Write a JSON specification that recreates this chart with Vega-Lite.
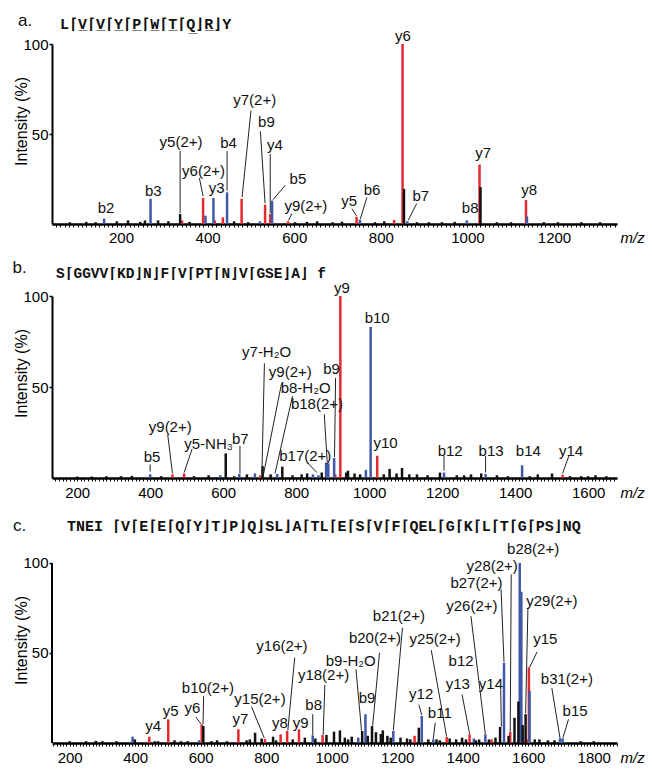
{
  "$schema": "https://vega.github.io/schema/vega-lite/v6.json",
  "background": "white",
  "padding": {"left": 12, "top": 11, "right": 2, "bottom": 2},
  "spacing": 72,
  "bounds": "flush",
  "config": {
    "view": {"stroke": null},
    "axis": {"labelFont": "Liberation Sans", "titleFont": "Liberation Sans", "labelColor": "#000", "titleColor": "#000", "domainColor": "#000", "tickColor": "#000", "grid": false, "labelFlush": false, "labelOverlap": false, "labelFontSize": 15, "titleFontWeight": "normal"}
  },
  "datasets": {
    "titles": [
      {"panel": "a", "letter": "a.", "seq": "L\u2308V\u0332\u2308V\u0332\u2308Y\u0332\u2308P\u0332\u2308W\u0332\u2308T\u0332\u2308Q\u0332\u230bR\u0332\u230bY"},
      {"panel": "b", "letter": "b.", "seq": "S\u2308GGVV\u2308KD\u230bN\u230bF\u2308V\u2308PT\u2308N\u230bV\u2308GSE\u230bA\u230b f"},
      {"panel": "c", "letter": "c.", "seq": "TNEI \u2308V\u2308E\u2308E\u2308Q\u2308Y\u230bT\u230bP\u230bQ\u230bSL\u230bA\u2308TL\u2308E\u2308S\u2308V\u2308F\u2308QEL\u2308G\u2308K\u2308L\u2308T\u2308G\u2308PS\u230bNQ"}
    ],
    "peaksA": [
      {"mz": 340.9, "int": 2, "ion": "y"}, {"mz": 389.6, "int": 14.4, "ion": "y"}, {"mz": 416.7, "int": 2, "ion": "y"}, {"mz": 435.2, "int": 3.7, "ion": "y"},
      {"mz": 478.5, "int": 14, "ion": "y"}, {"mz": 532.7, "int": 10.7, "ion": "y"}, {"mz": 544.6, "int": 5.5, "ion": "y"}, {"mz": 585.8, "int": 1.5, "ion": "y"},
      {"mz": 744.0, "int": 4, "ion": "y"}, {"mz": 830.7, "int": 2.2, "ion": "y"}, {"mz": 850.2, "int": 100, "ion": "y"}, {"mz": 1028.0, "int": 33, "ion": "y"},
      {"mz": 1135.3, "int": 13.3, "ion": "y"},
      {"mz": 160.9, "int": 3, "ion": "b"}, {"mz": 268.2, "int": 14, "ion": "b"}, {"mz": 395.1, "int": 4.6, "ion": "b"}, {"mz": 413.5, "int": 14.4, "ion": "b"},
      {"mz": 444.9, "int": 17.6, "ion": "b"}, {"mz": 520.8, "int": 1.5, "ion": "b"}, {"mz": 548.9, "int": 13, "ion": "b"}, {"mz": 751.6, "int": 2.4, "ion": "b"},
      {"mz": 861.1, "int": 1.5, "ion": "b"}, {"mz": 998.7, "int": 2, "ion": "b"}, {"mz": 1137.5, "int": 4.2, "ion": "b"},
      {"mz": 216.2, "int": 2, "ion": "n"}, {"mz": 285.6, "int": 2, "ion": "n"}, {"mz": 336.5, "int": 5.5, "ion": "n"}, {"mz": 653.0, "int": 1.5, "ion": "n"},
      {"mz": 853.5, "int": 19.5, "ion": "n"}, {"mz": 941.3, "int": 1, "ion": "n"}, {"mz": 1030.2, "int": 20.5, "ion": "n"},
      {"mz": 81.8, "int": 1, "ion": "n"}, {"mz": 119.8, "int": 1.2, "ion": "n"}, {"mz": 141.4, "int": 1, "ion": "n"}, {"mz": 190.2, "int": 1.5, "ion": "n"},
      {"mz": 244.4, "int": 1.2, "ion": "n"}, {"mz": 255.2, "int": 2, "ion": "n"}, {"mz": 309.4, "int": 1.5, "ion": "n"}, {"mz": 358.2, "int": 1.2, "ion": "n"},
      {"mz": 461.2, "int": 1.5, "ion": "n"}, {"mz": 493.7, "int": 1, "ion": "n"}, {"mz": 602.1, "int": 1, "ion": "n"}, {"mz": 629.2, "int": 1.2, "ion": "n"},
      {"mz": 688.8, "int": 1, "ion": "n"}, {"mz": 710.4, "int": 1.3, "ion": "n"}, {"mz": 786.3, "int": 1, "ion": "n"}, {"mz": 808.0, "int": 1.5, "ion": "n"},
      {"mz": 883.8, "int": 1, "ion": "n"}, {"mz": 910.9, "int": 1, "ion": "n"}, {"mz": 970.5, "int": 1.2, "ion": "n"}, {"mz": 1068.1, "int": 1, "ion": "n"},
      {"mz": 1100.6, "int": 1, "ion": "n"}, {"mz": 1176.5, "int": 1, "ion": "n"}, {"mz": 1209.0, "int": 1, "ion": "n"}, {"mz": 1263.2, "int": 1, "ion": "n"},
      {"mz": 1306.5, "int": 1, "ion": "n"}
    ],
    "labelsA": [
      {"mz": 165.3, "int": 8.8, "label": "b2"}, {"mz": 274.7, "int": 18.3, "label": "b3"}, {"mz": 338.7, "int": 45.3, "label": "y5(2+)"},
      {"mz": 390.7, "int": 29.7, "label": "y6(2+)"}, {"mz": 421.1, "int": 20, "label": "y3"}, {"mz": 448.2, "int": 45, "label": "b4"},
      {"mz": 508.8, "int": 69, "label": "y7(2+)"}, {"mz": 535.9, "int": 56.4, "label": "b9"}, {"mz": 555.5, "int": 44, "label": "y4"},
      {"mz": 608.6, "int": 25, "label": "b5"}, {"mz": 627, "int": 10, "label": "y9(2+)"}, {"mz": 726.7, "int": 13, "label": "y5"},
      {"mz": 779.8, "int": 19, "label": "b6"}, {"mz": 851.3, "int": 104.5, "label": "y6"}, {"mz": 892.5, "int": 15.7, "label": "b7"},
      {"mz": 1006.3, "int": 8.8, "label": "b8"}, {"mz": 1036.7, "int": 39.5, "label": "y7"}, {"mz": 1142.9, "int": 18.7, "label": "y8"}
    ],
    "leadersA": [
      {"mz": 336.5, "int": 40.5, "mz2": 336.5, "int2": 6}, {"mz": 381, "int": 25.5, "mz2": 389.6, "int2": 15.5},
      {"mz": 444.9, "int": 40.5, "mz2": 444.9, "int2": 18.5}, {"mz": 500.2, "int": 63, "mz2": 479.6, "int2": 15},
      {"mz": 521.9, "int": 51.5, "mz2": 532.7, "int2": 11.5}, {"mz": 544.6, "int": 39, "mz2": 544.6, "int2": 6},
      {"mz": 579.3, "int": 21.5, "mz2": 551.1, "int2": 13.5}, {"mz": 594.5, "int": 5.8, "mz2": 586.9, "int2": 2},
      {"mz": 733.2, "int": 8.5, "mz2": 744.0, "int2": 4.5}, {"mz": 767.9, "int": 14.8, "mz2": 752.7, "int2": 2.8},
      {"mz": 882.8, "int": 11.3, "mz2": 863.2, "int2": 2}
    ],
    "peaksB": [
      {"mz": 461, "int": 2, "ion": "y"}, {"mz": 493, "int": 2.5, "ion": "y"}, {"mz": 702, "int": 1.5, "ion": "y"}, {"mz": 907, "int": 2, "ion": "y"},
      {"mz": 921, "int": 100, "ion": "y"}, {"mz": 1022, "int": 12.2, "ion": "y"}, {"mz": 1530, "int": 1.8, "ion": "y"},
      {"mz": 400, "int": 2, "ion": "b"}, {"mz": 592, "int": 1.5, "ion": "b"}, {"mz": 644, "int": 2.2, "ion": "b"}, {"mz": 687, "int": 2.5, "ion": "b"},
      {"mz": 748, "int": 2.2, "ion": "b"}, {"mz": 846, "int": 2, "ion": "b"}, {"mz": 861, "int": 1.5, "ion": "b"}, {"mz": 882, "int": 8.5, "ion": "b"},
      {"mz": 888, "int": 8, "ion": "b"}, {"mz": 904, "int": 11, "ion": "b"}, {"mz": 991, "int": 4.5, "ion": "b"}, {"mz": 1004, "int": 83, "ion": "b"},
      {"mz": 1205, "int": 3, "ion": "b"}, {"mz": 1319, "int": 2.2, "ion": "b"}, {"mz": 1419, "int": 7, "ion": "b"},
      {"mz": 607, "int": 13.5, "ion": "n"}, {"mz": 708, "int": 6.5, "ion": "n"}, {"mz": 762, "int": 6.2, "ion": "n"}, {"mz": 937, "int": 3, "ion": "n"},
      {"mz": 942, "int": 4, "ion": "n"}, {"mz": 1056, "int": 5, "ion": "n"}, {"mz": 1090, "int": 5.5, "ion": "n"}, {"mz": 1131, "int": 2, "ion": "n"},
      {"mz": 1194, "int": 3, "ion": "n"}, {"mz": 1279, "int": 2, "ion": "n"}, {"mz": 1307, "int": 2.5, "ion": "n"}, {"mz": 1462, "int": 2, "ion": "n"},
      {"mz": 1501, "int": 2.5, "ion": "n"}, {"mz": 1581, "int": 1, "ion": "n"}, {"mz": 1620, "int": 1.5, "ion": "n"},
      {"mz": 200, "int": 0.8, "ion": "n"}, {"mz": 240, "int": 0.8, "ion": "n"}, {"mz": 280, "int": 1, "ion": "n"}, {"mz": 320, "int": 1, "ion": "n"},
      {"mz": 350, "int": 1.2, "ion": "n"}, {"mz": 430, "int": 1, "ion": "n"}, {"mz": 520, "int": 1, "ion": "n"}, {"mz": 560, "int": 1.5, "ion": "n"},
      {"mz": 630, "int": 1, "ion": "n"}, {"mz": 665, "int": 2, "ion": "n"}, {"mz": 730, "int": 2, "ion": "n"}, {"mz": 790, "int": 1.5, "ion": "n"},
      {"mz": 815, "int": 2, "ion": "n"}, {"mz": 830, "int": 2.5, "ion": "n"}, {"mz": 870, "int": 3, "ion": "n"}, {"mz": 960, "int": 2.5, "ion": "n"},
      {"mz": 975, "int": 2, "ion": "n"}, {"mz": 1040, "int": 2, "ion": "n"}, {"mz": 1075, "int": 2.5, "ion": "n"}, {"mz": 1110, "int": 2, "ion": "n"},
      {"mz": 1160, "int": 1.5, "ion": "n"}, {"mz": 1240, "int": 1.5, "ion": "n"}, {"mz": 1260, "int": 1.5, "ion": "n"}, {"mz": 1350, "int": 1.5, "ion": "n"},
      {"mz": 1380, "int": 1, "ion": "n"}, {"mz": 1440, "int": 1, "ion": "n"}, {"mz": 1550, "int": 1, "ion": "n"}, {"mz": 1600, "int": 1, "ion": "n"},
      {"mz": 1650, "int": 1, "ion": "n"}
    ],
    "labelsB": [
      {"mz": 405, "int": 11.3, "label": "b5"}, {"mz": 455, "int": 27.8, "label": "y9(2+)"}, {"mz": 560, "int": 18.6, "label": "y5-NH\u2083"},
      {"mz": 647, "int": 21.4, "label": "b7"}, {"mz": 825, "int": 12.2, "label": "b17(2+)"}, {"mz": 719, "int": 69.4, "label": "y7-H\u2082O"},
      {"mz": 784, "int": 58, "label": "y9(2+)"}, {"mz": 826, "int": 49.7, "label": "b8-H\u2082O"}, {"mz": 857, "int": 40.6, "label": "b18(2+)"},
      {"mz": 897, "int": 59.8, "label": "b9"}, {"mz": 925, "int": 104.5, "label": "y9"}, {"mz": 1022, "int": 88, "label": "b10"},
      {"mz": 1045, "int": 19.5, "label": "y10"}, {"mz": 1222, "int": 15, "label": "b12"}, {"mz": 1334, "int": 15, "label": "b13"},
      {"mz": 1436, "int": 15, "label": "b14"}, {"mz": 1553, "int": 15, "label": "y14"}
    ],
    "leadersB": [
      {"mz": 400, "int": 7.5, "mz2": 400, "int2": 3.5}, {"mz": 448, "int": 24, "mz2": 461, "int2": 2.5},
      {"mz": 515, "int": 16, "mz2": 493, "int2": 3}, {"mz": 646, "int": 17.7, "mz2": 646, "int2": 2.5},
      {"mz": 713, "int": 63, "mz2": 706, "int2": 2}, {"mz": 760, "int": 52, "mz2": 710, "int2": 1.5},
      {"mz": 790, "int": 45, "mz2": 742, "int2": 2.5}, {"mz": 877, "int": 35, "mz2": 885, "int2": 8.8},
      {"mz": 908, "int": 55, "mz2": 905, "int2": 11.5}, {"mz": 830, "int": 8.5, "mz2": 857, "int2": 3},
      {"mz": 1205, "int": 12, "mz2": 1205, "int2": 4}, {"mz": 1319, "int": 12, "mz2": 1319, "int2": 3},
      {"mz": 1547, "int": 12, "mz2": 1530, "int2": 2.5}
    ],
    "peaksC": [
      {"mz": 443, "int": 3.5, "ion": "y"}, {"mz": 501, "int": 13.1, "ion": "y"}, {"mz": 603, "int": 10.4, "ion": "y"}, {"mz": 715, "int": 7.6, "ion": "y"},
      {"mz": 796, "int": 2.2, "ion": "y"}, {"mz": 844, "int": 4.8, "ion": "y"}, {"mz": 864, "int": 6.7, "ion": "y"}, {"mz": 900, "int": 7.6, "ion": "y"},
      {"mz": 972, "int": 4.4, "ion": "y"}, {"mz": 1253, "int": 4, "ion": "y"}, {"mz": 1351, "int": 3.3, "ion": "y"}, {"mz": 1421, "int": 4.8, "ion": "y"},
      {"mz": 1488, "int": 2, "ion": "y"}, {"mz": 1545, "int": 6.1, "ion": "y"}, {"mz": 1598, "int": 2, "ion": "y"}, {"mz": 1602, "int": 42, "ion": "y"},
      {"mz": 392, "int": 3.5, "ion": "b"}, {"mz": 595, "int": 1.5, "ion": "b"}, {"mz": 942, "int": 4.3, "ion": "b"}, {"mz": 1081, "int": 3, "ion": "b"},
      {"mz": 1103, "int": 16, "ion": "b"}, {"mz": 1188, "int": 6.7, "ion": "b"}, {"mz": 1275, "int": 15, "ion": "b"}, {"mz": 1310, "int": 2, "ion": "b"},
      {"mz": 1434, "int": 2.5, "ion": "b"}, {"mz": 1469, "int": 4.8, "ion": "b"}, {"mz": 1526, "int": 44.6, "ion": "b"}, {"mz": 1574, "int": 100, "ion": "b"},
      {"mz": 1579, "int": 84, "ion": "b"}, {"mz": 1604, "int": 29, "ion": "b"}, {"mz": 1697, "int": 2.6, "ion": "b"}, {"mz": 1705, "int": 2.6, "ion": "b"},
      {"mz": 343, "int": 1, "ion": "n"}, {"mz": 399, "int": 2, "ion": "n"}, {"mz": 460, "int": 1, "ion": "n"}, {"mz": 540, "int": 1, "ion": "n"},
      {"mz": 608, "int": 9.5, "ion": "n"}, {"mz": 633, "int": 1, "ion": "n"}, {"mz": 766, "int": 5.7, "ion": "n"}, {"mz": 786, "int": 2.5, "ion": "n"},
      {"mz": 821, "int": 3.5, "ion": "n"}, {"mz": 881, "int": 2, "ion": "n"}, {"mz": 918, "int": 3, "ion": "n"}, {"mz": 984, "int": 4.5, "ion": "n"},
      {"mz": 1007, "int": 6.3, "ion": "n"}, {"mz": 1025, "int": 7, "ion": "n"}, {"mz": 1061, "int": 3.5, "ion": "n"}, {"mz": 1093, "int": 6.7, "ion": "n"},
      {"mz": 1123, "int": 9.4, "ion": "n"}, {"mz": 1135, "int": 6, "ion": "n"}, {"mz": 1150, "int": 5, "ion": "n"}, {"mz": 1156, "int": 7, "ion": "n"},
      {"mz": 1170, "int": 4, "ion": "n"}, {"mz": 1210, "int": 3, "ion": "n"}, {"mz": 1230, "int": 2.5, "ion": "n"}, {"mz": 1266, "int": 8.5, "ion": "n"},
      {"mz": 1295, "int": 2, "ion": "n"}, {"mz": 1360, "int": 2.5, "ion": "n"}, {"mz": 1380, "int": 2, "ion": "n"}, {"mz": 1398, "int": 3, "ion": "n"},
      {"mz": 1450, "int": 2, "ion": "n"}, {"mz": 1514, "int": 8.9, "ion": "n"}, {"mz": 1558, "int": 14, "ion": "n"}, {"mz": 1570, "int": 23, "ion": "n"},
      {"mz": 1583, "int": 10, "ion": "n"}, {"mz": 1592, "int": 16, "ion": "n"}, {"mz": 1634, "int": 2, "ion": "n"}, {"mz": 1660, "int": 1.5, "ion": "n"},
      {"mz": 200, "int": 1, "ion": "n"}, {"mz": 250, "int": 1, "ion": "n"}, {"mz": 280, "int": 1.2, "ion": "n"}, {"mz": 300, "int": 1, "ion": "n"},
      {"mz": 470, "int": 1, "ion": "n"}, {"mz": 520, "int": 1.5, "ion": "n"}, {"mz": 560, "int": 1, "ion": "n"}, {"mz": 650, "int": 1.5, "ion": "n"},
      {"mz": 680, "int": 1, "ion": "n"}, {"mz": 740, "int": 1.5, "ion": "n"}, {"mz": 750, "int": 2, "ion": "n"}, {"mz": 830, "int": 1.5, "ion": "n"},
      {"mz": 950, "int": 2.5, "ion": "n"}, {"mz": 1040, "int": 3, "ion": "n"}, {"mz": 1050, "int": 2, "ion": "n"}, {"mz": 1110, "int": 4, "ion": "n"},
      {"mz": 1180, "int": 3, "ion": "n"}, {"mz": 1240, "int": 2, "ion": "n"}, {"mz": 1320, "int": 2, "ion": "n"}, {"mz": 1330, "int": 1.5, "ion": "n"},
      {"mz": 1410, "int": 2, "ion": "n"}, {"mz": 1440, "int": 1.5, "ion": "n"}, {"mz": 1480, "int": 2, "ion": "n"}, {"mz": 1500, "int": 3, "ion": "n"},
      {"mz": 1540, "int": 4, "ion": "n"}, {"mz": 1620, "int": 2, "ion": "n"}, {"mz": 1680, "int": 1.5, "ion": "n"}, {"mz": 1760, "int": 1, "ion": "n"},
      {"mz": 1800, "int": 1, "ion": "n"}
    ],
    "labelsC": [
      {"mz": 455, "int": 9.4, "label": "y4"}, {"mz": 508, "int": 17.8, "label": "y5"}, {"mz": 575, "int": 19.6, "label": "y6"},
      {"mz": 622, "int": 30.7, "label": "b10(2+)"}, {"mz": 721, "int": 13.1, "label": "y7"}, {"mz": 781, "int": 24.3, "label": "y15(2+)"},
      {"mz": 842, "int": 11, "label": "y8"}, {"mz": 905, "int": 11, "label": "y9"}, {"mz": 848, "int": 53.9, "label": "y16(2+)"},
      {"mz": 975, "int": 37.5, "label": "y18(2+)"}, {"mz": 945, "int": 21.3, "label": "b8"}, {"mz": 1058, "int": 45.4, "label": "b9-H\u2082O"},
      {"mz": 1108, "int": 25.2, "label": "b9"}, {"mz": 1132, "int": 58.5, "label": "b20(2+)"}, {"mz": 1205, "int": 70.6, "label": "b21(2+)"},
      {"mz": 1316, "int": 57.6, "label": "y25(2+)"}, {"mz": 1273, "int": 27, "label": "y12"}, {"mz": 1330, "int": 16.8, "label": "b11"},
      {"mz": 1385, "int": 32.6, "label": "y13"}, {"mz": 1395, "int": 45.6, "label": "b12"}, {"mz": 1486, "int": 32.6, "label": "y14"},
      {"mz": 1428, "int": 76, "label": "y26(2+)"}, {"mz": 1442, "int": 89, "label": "b27(2+)"}, {"mz": 1490, "int": 98.3, "label": "y28(2+)"},
      {"mz": 1615, "int": 107.6, "label": "b28(2+)"}, {"mz": 1672, "int": 78.9, "label": "y29(2+)"}, {"mz": 1652, "int": 57.6, "label": "y15"},
      {"mz": 1718, "int": 35.4, "label": "b31(2+)"}, {"mz": 1743, "int": 17.8, "label": "b15"}
    ],
    "leadersC": [
      {"mz": 585, "int": 14.4, "mz2": 601, "int2": 10.6}, {"mz": 609, "int": 26, "mz2": 607, "int2": 10.5},
      {"mz": 755, "int": 20.2, "mz2": 794, "int2": 2.8}, {"mz": 887, "int": 47.4, "mz2": 866, "int2": 7},
      {"mz": 979, "int": 32.3, "mz2": 974, "int2": 4.6}, {"mz": 942, "int": 16, "mz2": 942, "int2": 4.5},
      {"mz": 1074, "int": 40.9, "mz2": 1091, "int2": 7}, {"mz": 1146, "int": 50.2, "mz2": 1125, "int2": 9.6},
      {"mz": 1216, "int": 64, "mz2": 1188, "int2": 7}, {"mz": 1304, "int": 51.5, "mz2": 1351, "int2": 3.5},
      {"mz": 1266, "int": 21.3, "mz2": 1275, "int2": 15.5}, {"mz": 1316, "int": 11.3, "mz2": 1310, "int2": 2.2},
      {"mz": 1398, "int": 27, "mz2": 1421, "int2": 5}, {"mz": 1516, "int": 29.8, "mz2": 1518, "int2": 9},
      {"mz": 1425, "int": 70.5, "mz2": 1469, "int2": 5}, {"mz": 1517, "int": 85.4, "mz2": 1526, "int2": 45},
      {"mz": 1548, "int": 93.7, "mz2": 1545, "int2": 6.3}, {"mz": 1599, "int": 74.3, "mz2": 1592, "int2": 16.5},
      {"mz": 1627, "int": 50.6, "mz2": 1604, "int2": 42}, {"mz": 1672, "int": 30.6, "mz2": 1697, "int2": 2.8},
      {"mz": 1723, "int": 13.2, "mz2": 1706, "int2": 3}
    ]
  },
  "vconcat": [
    {
      "width": 565, "height": 180,
      "layer": [
        {"data": {"name": "peaksA"}, "mark": {"type": "rule", "strokeWidth": 2.5},
         "encoding": {
           "x": {"field": "mz", "type": "quantitative", "scale": {"domain": [40.6, 1345.5], "nice": false, "zero": false},
                 "axis": {"tickCount": 130, "labelExpr": "datum.value % 200 === 0 ? '' + datum.value : ''", "tickSize": 3, "tickWidth": 1, "domainWidth": 2.5, "labelPadding": 3.5,
                          "title": "m/z", "titleFontStyle": "italic", "titleFontSize": 15, "titleX": 568, "titleY": 13, "titleAlign": "left", "titleBaseline": "middle"}},
           "y": {"field": "int", "type": "quantitative", "scale": {"domain": [0, 100], "nice": false},
                 "axis": {"values": [50, 100], "title": "Intensity (%)", "titleFontSize": 16, "titleX": -31, "titleY": 77, "titleBaseline": "middle", "tickSize": 3, "tickWidth": 1.5, "domainWidth": 2, "labelPadding": 1}},
           "y2": {"datum": 0},
           "color": {"field": "ion", "type": "nominal", "scale": {"domain": ["y", "b", "n"], "range": ["#e42a2e", "#4158a6", "#111111"]}, "legend": null}
         }},
        {"data": {"name": "leadersA"}, "mark": {"type": "rule", "strokeWidth": 1, "color": "#222"},
         "encoding": {
           "x": {"field": "mz", "type": "quantitative"},
           "y": {"field": "int", "type": "quantitative"},
           "x2": {"field": "mz2"}, "y2": {"field": "int2"}
         }},
        {"data": {"name": "labelsA"}, "mark": {"type": "text", "font": "Liberation Sans", "fontSize": 15, "color": "#111", "align": "center", "baseline": "middle"},
         "encoding": {
           "x": {"field": "mz", "type": "quantitative"},
           "y": {"field": "int", "type": "quantitative"},
           "text": {"field": "label"}
         }},
        {"data": {"name": "titles"}, "transform": [{"filter": "datum.panel === 'a'"}],
         "mark": {"type": "text", "font": "Liberation Sans", "fontSize": 17, "color": "#111", "align": "left", "baseline": "alphabetic"},
         "encoding": {
           "x": {"datum": -37.8, "type": "quantitative"},
           "y": {"datum": 110, "type": "quantitative"},
           "text": {"field": "letter"}
         }},
        {"data": {"name": "titles"}, "transform": [{"filter": "datum.panel === 'a'"}],
         "mark": {"type": "text", "font": "Liberation Mono, DejaVu Sans Mono, monospace", "fontWeight": "bold", "fontSize": 15, "color": "#111", "align": "left", "baseline": "alphabetic"},
         "encoding": {
           "x": {"datum": 59.1, "type": "quantitative"},
           "y": {"datum": 108.2, "type": "quantitative"},
           "text": {"field": "seq"}
         }}
      ]
    },
    {
      "width": 565, "height": 182,
      "layer": [
        {"data": {"name": "peaksB"}, "mark": {"type": "rule", "strokeWidth": 2.5},
         "encoding": {
           "x": {"field": "mz", "type": "quantitative", "scale": {"domain": [131, 1679], "nice": false, "zero": false},
                 "axis": {"tickCount": 155, "labelExpr": "datum.value % 200 === 0 ? '' + datum.value : ''", "tickSize": 3, "tickWidth": 1, "domainWidth": 2.5, "labelPadding": 4.5,
                          "title": "m/z", "titleFontStyle": "italic", "titleFontSize": 15, "titleX": 568, "titleY": 14, "titleAlign": "left", "titleBaseline": "middle"}},
           "y": {"field": "int", "type": "quantitative", "scale": {"domain": [0, 100], "nice": false},
                 "axis": {"values": [50, 100], "title": "Intensity (%)", "titleFontSize": 16, "titleX": -31, "titleY": 77, "titleBaseline": "middle", "tickSize": 3, "tickWidth": 1.5, "domainWidth": 2, "labelPadding": 1}},
           "y2": {"datum": 0},
           "color": {"field": "ion", "type": "nominal", "scale": {"domain": ["y", "b", "n"], "range": ["#e42a2e", "#4158a6", "#111111"]}, "legend": null}
         }},
        {"data": {"name": "leadersB"}, "mark": {"type": "rule", "strokeWidth": 1, "color": "#222"},
         "encoding": {
           "x": {"field": "mz", "type": "quantitative"},
           "y": {"field": "int", "type": "quantitative"},
           "x2": {"field": "mz2"}, "y2": {"field": "int2"}
         }},
        {"data": {"name": "labelsB"}, "mark": {"type": "text", "font": "Liberation Sans", "fontSize": 15, "color": "#111", "align": "center", "baseline": "middle"},
         "encoding": {
           "x": {"field": "mz", "type": "quantitative"},
           "y": {"field": "int", "type": "quantitative"},
           "text": {"field": "label"}
         }},
        {"data": {"name": "titles"}, "transform": [{"filter": "datum.panel === 'b'"}],
         "mark": {"type": "text", "font": "Liberation Sans", "fontSize": 17, "color": "#111", "align": "left", "baseline": "alphabetic"},
         "encoding": {
           "x": {"datum": 23, "type": "quantitative"},
           "y": {"datum": 112.6, "type": "quantitative"},
           "text": {"field": "letter"}
         }},
        {"data": {"name": "titles"}, "transform": [{"filter": "datum.panel === 'b'"}],
         "mark": {"type": "text", "font": "Liberation Mono, DejaVu Sans Mono, monospace", "fontWeight": "bold", "fontSize": 14.5, "color": "#111", "align": "left", "baseline": "alphabetic"},
         "encoding": {
           "x": {"datum": 142, "type": "quantitative"},
           "y": {"datum": 109.9, "type": "quantitative"},
           "text": {"field": "seq"}
         }}
      ]
    },
    {
      "width": 565, "height": 193,
      "layer": [
        {"data": {"name": "peaksC"}, "mark": {"type": "rule", "strokeWidth": 2.5},
         "encoding": {
           "x": {"field": "mz", "type": "quantitative", "scale": {"domain": [146, 1871], "nice": false, "zero": false},
                 "axis": {"tickCount": 173, "labelExpr": "datum.value % 200 === 0 ? '' + datum.value : ''", "tickSize": 3, "tickWidth": 1, "domainWidth": 2.5, "labelPadding": 4.5,
                          "title": "m/z", "titleFontStyle": "italic", "titleFontSize": 15, "titleX": 568, "titleY": 14, "titleAlign": "left", "titleBaseline": "middle"}},
           "y": {"field": "int", "type": "quantitative", "scale": {"domain": [0, 107.2], "nice": false},
                 "axis": {"values": [50, 100], "domain": false, "title": "Intensity (%)", "titleFontSize": 16, "titleX": -31, "titleY": 90, "titleBaseline": "middle", "tickSize": 3, "tickWidth": 1.5, "labelPadding": 1}},
           "y2": {"datum": 0},
           "color": {"field": "ion", "type": "nominal", "scale": {"domain": ["y", "b", "n"], "range": ["#e42a2e", "#4158a6", "#111111"]}, "legend": null}
         }},
        {"data": {"name": "titles"}, "transform": [{"filter": "datum.panel === 'c'"}],
         "mark": {"type": "rule", "strokeWidth": 2, "color": "#000"},
         "encoding": {
           "x": {"datum": 146, "type": "quantitative"},
           "y": {"datum": 0, "type": "quantitative"},
           "y2": {"datum": 100}
         }},
        {"data": {"name": "leadersC"}, "mark": {"type": "rule", "strokeWidth": 1, "color": "#222"},
         "encoding": {
           "x": {"field": "mz", "type": "quantitative"},
           "y": {"field": "int", "type": "quantitative"},
           "x2": {"field": "mz2"}, "y2": {"field": "int2"}
         }},
        {"data": {"name": "labelsC"}, "mark": {"type": "text", "font": "Liberation Sans", "fontSize": 15, "color": "#111", "align": "center", "baseline": "middle"},
         "encoding": {
           "x": {"field": "mz", "type": "quantitative"},
           "y": {"field": "int", "type": "quantitative"},
           "text": {"field": "label"}
         }},
        {"data": {"name": "titles"}, "transform": [{"filter": "datum.panel === 'c'"}],
         "mark": {"type": "text", "font": "Liberation Sans", "fontSize": 17, "color": "#111", "align": "left", "baseline": "alphabetic"},
         "encoding": {
           "x": {"datum": 27, "type": "quantitative"},
           "y": {"datum": 117.8, "type": "quantitative"},
           "text": {"field": "letter"}
         }},
        {"data": {"name": "titles"}, "transform": [{"filter": "datum.panel === 'c'"}],
         "mark": {"type": "text", "font": "Liberation Mono, DejaVu Sans Mono, monospace", "fontWeight": "bold", "fontSize": 15, "color": "#111", "align": "left", "baseline": "alphabetic"},
         "encoding": {
           "x": {"datum": 192, "type": "quantitative"},
           "y": {"datum": 117.8, "type": "quantitative"},
           "text": {"field": "seq"}
         }}
      ]
    }
  ]
}
